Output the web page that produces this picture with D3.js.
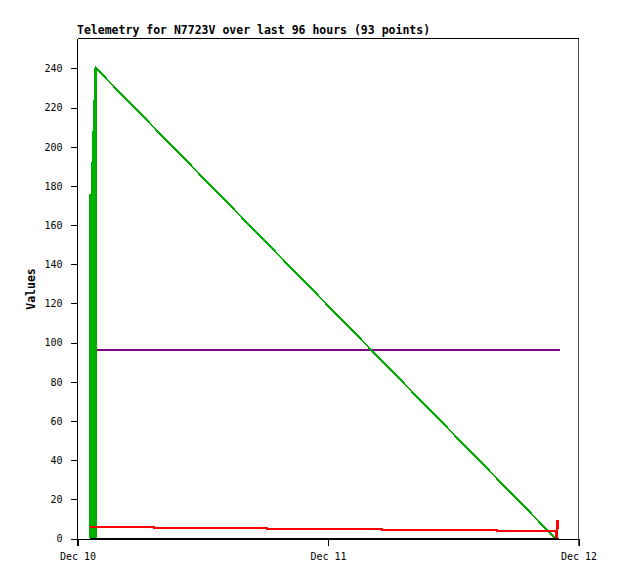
<!DOCTYPE html>
<html>
<head>
<meta charset="utf-8">
<script src="https://cdn.jsdelivr.net/npm/d3@7"></script>
<style>
  body { margin: 0; background: #fff; }
  svg { display: block; }
  .tick text { font-family: "DejaVu Sans Mono", "Liberation Mono", monospace; font-size: 10px; fill: #000; }
</style>
</head>
<body>
<div id="chart"></div>
<script>
// Hours after Dec 10 00:00 and the values
const greenHours  = [1.22, 1.24, 1.26, 1.28, 1.30, 1.32, 1.34, 1.36, 1.38, 1.40,
                     1.42, 1.44, 1.46, 1.48, 1.50, 1.52, 1.54, 1.56, 1.58, 1.60,
                     1.62, 1.64, 1.66, 1.68, 1.70, 1.72, 1.74, 1.76, 1.78, 1.80, 45.8];
const greenValues = [0, 176, 0, 176, 0, 176, 0, 192, 0, 192,
                     0, 192, 0, 208, 0, 208, 0, 224, 0, 224,
                     0, 224, 0, 240, 0, 240, 0, 240, 0, 240, 0];

const redHours  = [1.22, 7.3, 18.2, 29.2, 40.2, 45.8, 45.9, 46.0];
const redValues = [5.8, 5.2, 4.8, 4.4, 4.0, 0, 9, 5];

const purpleHours  = [1.22, 46.2];
const purpleValues = [96, 96];

const blackHours  = [1.22, 46.1];
const blackValues = [0, 0];

const yTicks = [0, 20, 40, 60, 80, 100, 120, 140, 160, 180, 200, 220, 240];
const xTickDays = [10, 11, 12];

const width = 618, height = 579;
const base = new Date(2024, 11, 10);
const toDate = h => new Date(base.getTime() + h * 3600e3);

const svg = d3.select("#chart").append("svg")
  .attr("width", width).attr("height", height);

const x = d3.scaleTime()
  .domain([base, toDate(48)])
  .range([77.5, 578.5]);
const y = d3.scaleLinear()
  .domain([0, 255.3])
  .range([538.5, 38.5]);

// frame
svg.append("line").attr("x1", 77.5).attr("x2", 578.5).attr("y1", 38.5).attr("y2", 38.5)
  .attr("stroke", "#000").attr("shape-rendering", "crispEdges");
svg.append("line").attr("x1", 578.5).attr("x2", 578.5).attr("y1", 38.5).attr("y2", 545.5)
  .attr("stroke", "#555").attr("shape-rendering", "crispEdges");

// series
const pts = (hs, vs) => hs.map((h, i) => [toDate(h), vs[i]]);
const line = d3.line().x(d => x(d[0])).y(d => y(d[1]));
const stepLine = d3.line().x(d => x(d[0])).y(d => y(d[1])).curve(d3.curveStepAfter);

const series = [
  { data: pts(purpleHours, purpleValues), color: "#800080", gen: line },
  { data: pts(greenHours, greenValues), color: "#00b000", gen: line },
  { data: pts(redHours, redValues), color: "#ff0000", gen: stepLine },
  { data: pts(blackHours, blackValues), color: "#000000", gen: line }
];

svg.selectAll(".series")
  .data(series)
  .enter()
  .append("path")
  .attr("class", "series")
  .attr("d", d => d.gen(d.data))
  .attr("fill", "none")
  .attr("stroke", d => d.color)
  .attr("stroke-width", 2)
  .attr("shape-rendering", "crispEdges");

// axes
const yAxis = d3.axisLeft(y)
  .tickValues(yTicks)
  .tickSize(7)
  .tickSizeOuter(0)
  .tickPadding(8);
const gy = svg.append("g").attr("transform", "translate(77.5,0)").call(yAxis);
gy.select(".domain").remove();
gy.append("line").attr("y1", 38.5).attr("y2", 545.5).attr("stroke", "#000");
gy.selectAll("line").attr("shape-rendering", "crispEdges");

const xAxis = d3.axisBottom(x)
  .tickValues(xTickDays.map(d => new Date(2024, 11, d)))
  .tickFormat(d3.timeFormat("%b %d"))
  .tickSize(7)
  .tickSizeOuter(0)
  .tickPadding(7);
const gx = svg.append("g").attr("transform", "translate(0,538.5)").call(xAxis);
gx.select(".domain").attr("shape-rendering", "crispEdges");
gx.selectAll("line").attr("shape-rendering", "crispEdges");

// title and axis label
svg.append("text")
  .attr("x", 77).attr("y", 34)
  .attr("font-family", "'DejaVu Sans Mono', 'Liberation Mono', monospace")
  .attr("font-weight", "bold")
  .attr("font-size", 11.5)
  .text("Telemetry for N7723V over last 96 hours (93 points)");

svg.append("text")
  .attr("transform", "translate(35,289) rotate(-90)")
  .attr("text-anchor", "middle")
  .attr("font-family", "'DejaVu Sans Mono', 'Liberation Mono', monospace")
  .attr("font-weight", "bold")
  .attr("font-size", 11.5)
  .text("Values");
</script>
</body>
</html>
